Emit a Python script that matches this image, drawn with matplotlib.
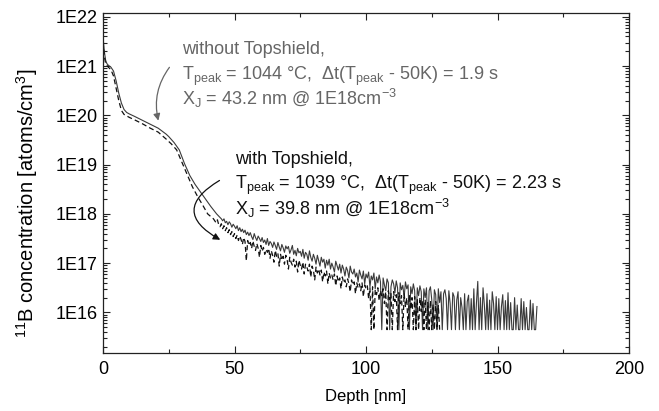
import numpy as np
import matplotlib
matplotlib.use('Agg')
import matplotlib.pyplot as plt
from matplotlib.ticker import FixedLocator, LogLocator, NullFormatter, MultipleLocator

plt.rcParams['font.family'] = ['Liberation Sans', 'DejaVu Sans']
plt.rcParams['mathtext.fontset'] = 'custom'
plt.rcParams['mathtext.rm'] = 'Liberation Sans'
plt.rcParams['mathtext.it'] = 'Liberation Sans'

# ---------------------------------------------------------------------------
# Profile data (depth in nm, log10 of concentration)
# ---------------------------------------------------------------------------

# without Topshield (solid) - smooth head of the profile
depth_wo_head = [0, 0.5, 1, 1.5, 2, 3, 4, 5, 6, 7, 8, 9, 10, 12, 15, 18, 21, 24, 25,
                 27, 29, 31, 33, 35, 37, 39, 41, 43.2, 45]
logc_wo_head = [21.6, 21.3, 21.12, 21.05, 21.02, 20.98, 20.9, 20.7, 20.45, 20.25, 20.12,
                20.06, 20.03, 19.98, 19.9, 19.82, 19.74, 19.62, 19.57,
                19.45, 19.3, 19.02, 18.78, 18.6, 18.45, 18.3, 18.15, 18.0, 17.9]

# noisy tail, 0.5 nm sampling starting at 45.5 nm (15.65 = detection floor)
tail_wo_start = 45.5
logc_wo_tail = [
    17.86, 17.90, 17.82, 17.85, 17.78, 17.84, 17.80, 17.73, 17.79, 17.75,
    17.70, 17.76, 17.66, 17.72, 17.64, 17.69, 17.62, 17.67, 17.58, 17.63,
    17.56, 17.62, 17.54, 17.48, 17.60, 17.52, 17.46, 17.55, 17.50, 17.44,
    17.52, 17.42, 17.47, 17.38, 17.50, 17.36, 17.44, 17.40, 17.32, 17.43,
    17.36, 17.28, 17.42, 17.33, 17.25, 17.38, 17.31, 17.22, 17.35, 17.29,
    17.34, 17.20, 17.27, 17.36, 17.18, 17.26, 17.15, 17.30, 17.21, 17.24,
    17.14, 17.28, 17.10, 17.22, 17.18, 17.06, 17.25, 17.12, 17.04, 17.18,
    17.10, 16.98, 17.16, 17.05, 16.94, 17.12, 17.02, 17.08, 16.90, 17.06,
    16.96, 17.08, 16.88, 17.00, 16.92, 16.82, 17.04, 16.95, 16.86, 16.98,
    16.80, 16.96, 16.88, 16.74, 16.92, 16.85, 16.70, 16.94, 16.82, 16.78,
    16.88, 16.72, 16.80, 16.62, 16.86, 16.76, 16.68, 16.84, 16.58, 16.78,
    16.70, 16.82, 16.52, 16.74, 16.66, 16.80, 16.48, 16.72, 16.60, 16.76,
    16.62, 15.65, 16.70, 16.56, 16.44, 16.68, 16.60, 15.65, 16.52, 16.66,
    16.58, 16.40, 16.64, 16.50, 15.65, 16.60, 16.46, 16.55, 16.30, 16.62,
    16.48, 16.56, 15.65, 16.52, 16.38, 16.58, 16.44, 15.65, 16.50, 16.34,
    16.54, 16.42, 15.65, 16.48, 16.30, 16.50, 15.65, 16.44, 16.52, 16.26,
    15.65, 16.46, 16.36, 15.65, 16.48, 16.20, 16.42, 15.65, 16.38, 16.46,
    16.28, 15.65, 16.44, 16.18, 15.65, 16.40, 16.32, 15.65, 16.25, 16.42,
    15.65, 16.30, 16.10, 15.65, 16.38, 15.65, 16.22, 16.35, 15.65, 16.28,
    15.65, 16.48, 15.65, 16.20, 16.63, 15.65, 16.30, 15.65, 16.50, 16.15,
    15.65, 16.38, 15.65, 16.25, 15.65, 16.42, 16.18, 15.65, 16.32, 15.65,
    16.28, 15.65, 16.12, 16.36, 15.65, 16.24, 15.65, 16.40, 15.65, 16.20,
    15.65, 15.65, 16.30, 15.65, 16.15, 15.65, 15.65, 16.28, 15.65, 16.22,
    15.65, 16.10, 15.65, 15.65, 16.25, 15.65, 16.18, 15.65, 15.65, 16.12,
]

# with Topshield (dashed)
depth_w_head = [0, 0.5, 1, 2, 3, 4, 5, 6, 7, 8, 10, 12, 15, 18, 21, 24, 26,
                28, 30, 32, 34, 36, 38, 39.8, 42]
logc_w_head = [21.5, 21.2, 21.05, 20.98, 20.93, 20.8, 20.55, 20.3, 20.1, 20.02, 19.96,
               19.91, 19.83, 19.74, 19.66, 19.52, 19.42,
               19.3, 19.05, 18.8, 18.55, 18.35, 18.17, 18.0, 17.9]

tail_w_start = 42.5
logc_w_tail = [
    17.86, 17.82, 17.88, 17.78, 17.74, 17.80, 17.70, 17.76, 17.66, 17.72,
    17.62, 17.68, 17.58, 17.64, 17.54, 17.60, 17.50, 17.57, 17.46, 17.55,
    17.48, 17.38, 17.52, 17.44, 17.05, 17.46, 17.36, 17.42, 17.30, 17.45,
    17.34, 17.26, 17.40, 17.30, 17.12, 17.36, 17.24, 17.32, 17.18, 17.28,
    17.22, 17.30, 17.10, 17.25, 17.16, 17.02, 17.26, 17.14, 17.20, 16.94,
    17.18, 17.06, 17.14, 16.98, 17.16, 17.08, 16.88, 17.12, 17.02, 16.96,
    17.08, 16.92, 17.04, 16.82, 17.06, 16.96, 16.88, 17.02, 16.78, 16.98,
    16.92, 16.84, 16.98, 16.72, 16.94, 16.86, 16.66, 16.92, 16.80, 16.88,
    16.76, 16.86, 16.62, 16.82, 16.74, 16.84, 16.58, 16.80, 16.70, 16.76,
    16.66, 16.78, 16.54, 16.74, 16.62, 16.70, 16.48, 16.72, 16.60, 16.66,
    16.52, 16.68, 16.58, 16.42, 16.66, 16.56, 16.62, 16.38, 16.60, 16.50,
    16.58, 16.44, 16.60, 16.32, 16.56, 16.48, 16.54, 16.28, 16.50, 15.65,
    16.52, 15.65, 16.46, 16.36, 16.50, 16.24, 16.44, 16.34, 16.48, 16.18,
    16.42, 15.65, 16.44, 16.26, 16.38, 15.65, 16.42, 16.22, 16.36, 15.65,
    16.40, 16.18, 16.34, 15.65, 16.38, 16.12, 16.30, 15.65, 16.36, 16.06,
    16.30, 15.65, 16.32, 15.65, 16.26, 15.65, 16.30, 16.02, 16.24, 15.65,
    16.26, 15.65, 16.20, 15.65, 16.24, 15.65, 16.16, 15.65, 16.22, 15.65,
    16.14, 15.65,
]


def profile(head_x, head_y, tail_start, tail_y):
    tail_x = tail_start + 0.5 * np.arange(len(tail_y))
    x = np.concatenate([head_x, tail_x])
    y = 10.0 ** np.concatenate([head_y, tail_y])
    return x, y


x_wo, c_wo = profile(depth_wo_head, logc_wo_head, tail_wo_start, logc_wo_tail)
x_w, c_w = profile(depth_w_head, logc_w_head, tail_w_start, logc_w_tail)

# ---------------------------------------------------------------------------
# Plot
# ---------------------------------------------------------------------------

FS = 13
fig = plt.figure(figsize=(6.59, 4.11), dpi=100)
ax = fig.add_axes([103 / 659, 58 / 411, 526 / 659, 340 / 411])

ax.semilogy(x_wo, c_wo, color='#3a3a3a', linewidth=0.8)
ax.semilogy(x_w, c_w, color='#111111', linewidth=0.9, linestyle=(0, (4, 2.5)))

ax.set_xlim(0, 200)
ax.set_ylim(1.5e15, 1.2e22)

ax.xaxis.set_major_locator(MultipleLocator(50))
ax.xaxis.set_minor_locator(MultipleLocator(25))
ax.yaxis.set_major_locator(FixedLocator([10.0 ** k for k in range(16, 23)]))
ax.yaxis.set_minor_locator(LogLocator(base=10, subs=np.arange(2, 10)))
ax.yaxis.set_minor_formatter(NullFormatter())
ax.set_yticklabels([f'1E{k}' for k in range(16, 23)])

ax.tick_params(which='both', direction='in', top=True, right=True,
               labelsize=FS, width=0.8, color='#222222')
ax.tick_params(which='major', length=5, pad=4)
ax.tick_params(axis='x', which='major', pad=6)
ax.tick_params(which='minor', length=3)
for s in ax.spines.values():
    s.set_linewidth(0.9)
    s.set_color('#222222')

ax.set_xlabel('Depth [nm]', fontsize=12, labelpad=8)
ax.set_ylabel(r'$^{11}$B concentration [atoms/cm$^{3}$]', fontsize=14.5)
ax.yaxis.set_label_coords(-0.12, 0.44)

# annotations (baselines)
gray = '#666666'
ax.text(30.0, 10 ** 21.25, 'without Topshield,', color=gray, fontsize=FS)
ax.text(30.0, 10 ** 20.72, r'T$_{\mathrm{peak}}$ = 1044 °C,  Δt(T$_{\mathrm{peak}}$ - 50K) = 1.9 s',
        color=gray, fontsize=FS)
ax.text(30.0, 10 ** 20.21, r'X$_{\mathrm{J}}$ = 43.2 nm @ 1E18cm$^{-3}$',
        color=gray, fontsize=FS)

ax.text(50.2, 10 ** 19.02, 'with Topshield,', color='#111111', fontsize=FS)
ax.text(50.2, 10 ** 18.51, r'T$_{\mathrm{peak}}$ = 1039 °C,  Δt(T$_{\mathrm{peak}}$ - 50K) = 2.23 s',
        color='#111111', fontsize=FS)
ax.text(50.2, 10 ** 17.98, r'X$_{\mathrm{J}}$ = 39.8 nm @ 1E18cm$^{-3}$',
        color='#111111', fontsize=FS)

ax.annotate('', xy=(21.3, 6.9e19), xytext=(25.9, 1.05e21),
            arrowprops=dict(arrowstyle='-|>', color=gray, lw=0.9,
                            mutation_scale=10, connectionstyle='arc3,rad=0.25'))
ax.annotate('', xy=(45.5, 2.8e17), xytext=(45.2, 5.1e18),
            arrowprops=dict(arrowstyle='-|>', color='#111111', lw=0.9,
                            mutation_scale=10, connectionstyle='arc3,rad=0.9'))

fig.savefig('out.png', dpi=100)
